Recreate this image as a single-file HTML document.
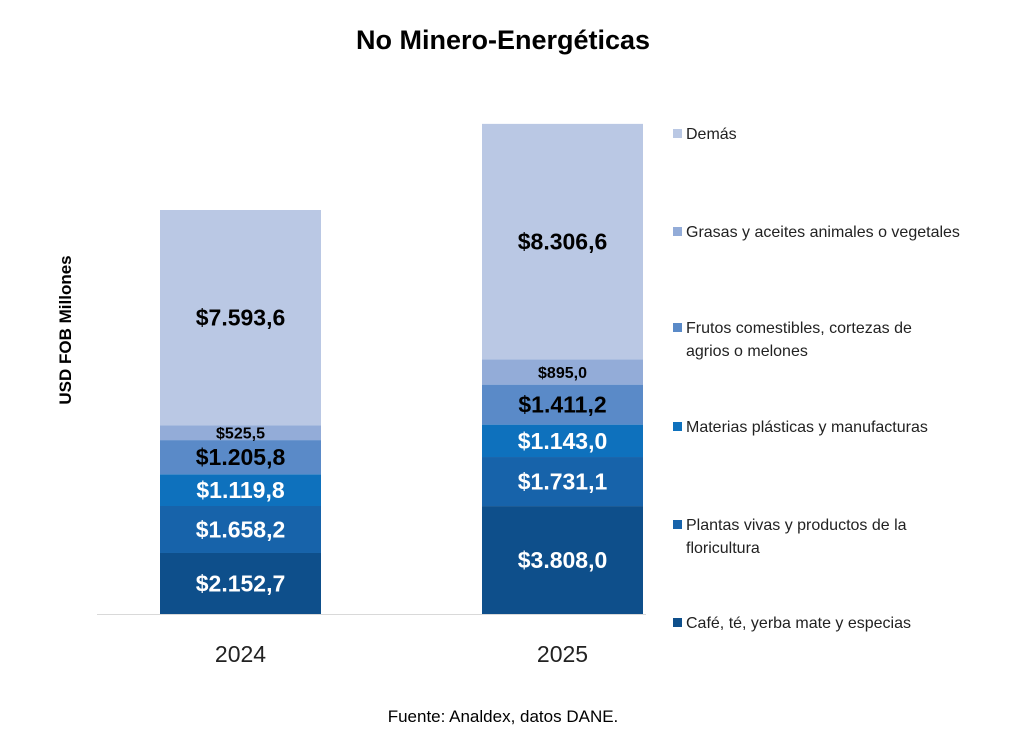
<!DOCTYPE html>
<html><head><meta charset="utf-8"><style>
body{margin:0;background:#fff;font-family:"Liberation Sans",sans-serif}
svg text{font-family:"Liberation Sans",sans-serif}
</style></head><body>
<svg id="chart" width="1010" height="725" xmlns="http://www.w3.org/2000/svg">
<text x="503" y="49" text-anchor="middle" font-size="27" font-weight="bold" fill="#000">No Minero-Energéticas</text>
<text transform="translate(71,330) rotate(-90)" text-anchor="middle" font-size="17" font-weight="bold" fill="#000">USD FOB Millones</text>
<line x1="97" y1="614.5" x2="646" y2="614.5" stroke="#d9d9d9" stroke-width="1"/>
<g id="bars"></g>
<g id="legend"></g>
<text x="503" y="722" text-anchor="middle" font-size="17" fill="#000">Fuente: Analdex, datos DANE.</text>
</svg>
<script>
const years = ["2024","2025"];
const seriesNames = ["Café, té, yerba mate y especias","Plantas vivas y productos de la floricultura","Materias plásticas y manufacturas","Frutos comestibles, cortezas de agrios o melones","Grasas y aceites animales o vegetales","Demás"];
const cafe = [2152.7, 3808.0];
const plantas = [1658.2, 1731.1];
const plasticos = [1119.8, 1143.0];
const frutos = [1205.8, 1411.2];
const grasas = [525.5, 895.0];
const demas = [7593.6, 8306.6];
const valueLabels = [["$2.152,7","$1.658,2","$1.119,8","$1.205,8","$525,5","$7.593,6"],["$3.808,0","$1.731,1","$1.143,0","$1.411,2","$895,0","$8.306,6"]];
const series = [cafe, plantas, plasticos, frutos, grasas, demas];
const colors = ["#0e4f8b","#1763aa","#0e71bd","#5a8ac8","#93acd8","#bac8e4"];
const textColors = ["#fff","#fff","#fff","#000","#000","#000"];
const legendLines = [["Café, té, yerba mate y especias"],["Plantas vivas y productos de la","floricultura"],["Materias plásticas y manufacturas"],["Frutos comestibles, cortezas de","agrios o melones"],["Grasas y aceites animales o vegetales"],["Demás"]];
const legendY = [628, 530, 432, 333, 237, 139];

const NS="http://www.w3.org/2000/svg";
const baseY=614, scale=404/14255.6;
const xCenter = i => 240.5 + i*322;
const yPos = v => baseY - v*scale;
const barW = 161;
const gb=document.getElementById('bars');
years.forEach((yr,i)=>{
  let cum=0;
  series.forEach((s,k)=>{
    const v=s[i];
    const y0=yPos(cum), y1=yPos(cum+v);
    const r=document.createElementNS(NS,'rect');
    
    
    r.setAttribute('x',xCenter(i)-barW/2);r.setAttribute('y',y1);
    r.setAttribute('width',barW);r.setAttribute('height',y0-y1);
    r.setAttribute('fill',colors[k]);gb.appendChild(r);
    const t=document.createElementNS(NS,'text');
    
    
    const small = k===4;
    t.setAttribute('x',xCenter(i));t.setAttribute('y',(y0+y1)/2+(small?6:8));
    t.setAttribute('text-anchor','middle');t.setAttribute('font-weight','bold');
    t.setAttribute('font-size',small?16:23);t.setAttribute('fill',textColors[k]);
    t.textContent=valueLabels[i][k];gb.appendChild(t);
    cum+=v;
  });
  const xl=document.createElementNS(NS,'text');
  
  
  xl.setAttribute('x',xCenter(i));xl.setAttribute('y',662);
  xl.setAttribute('text-anchor','middle');xl.setAttribute('font-size',23);xl.setAttribute('fill','#222');
  xl.textContent=yr;gb.appendChild(xl);
});
const gl=document.getElementById('legend');
seriesNames.forEach((n,k)=>{
  const g=document.createElementNS(NS,'g');
  
  
  const r=document.createElementNS(NS,'rect');
  
  
  r.setAttribute('x',673);r.setAttribute('y',legendY[k]-10);r.setAttribute('width',9);r.setAttribute('height',9);
  r.setAttribute('fill',colors[k]);g.appendChild(r);
  legendLines[k].forEach((ln,j)=>{
    const t=document.createElementNS(NS,'text');
    
    
    t.setAttribute('x',686);t.setAttribute('y',legendY[k]+j*23);
    t.setAttribute('font-size',16);t.setAttribute('fill','#222');
    t.textContent=ln;g.appendChild(t);
  });
  gl.appendChild(g);
});
</script>
</body></html>
